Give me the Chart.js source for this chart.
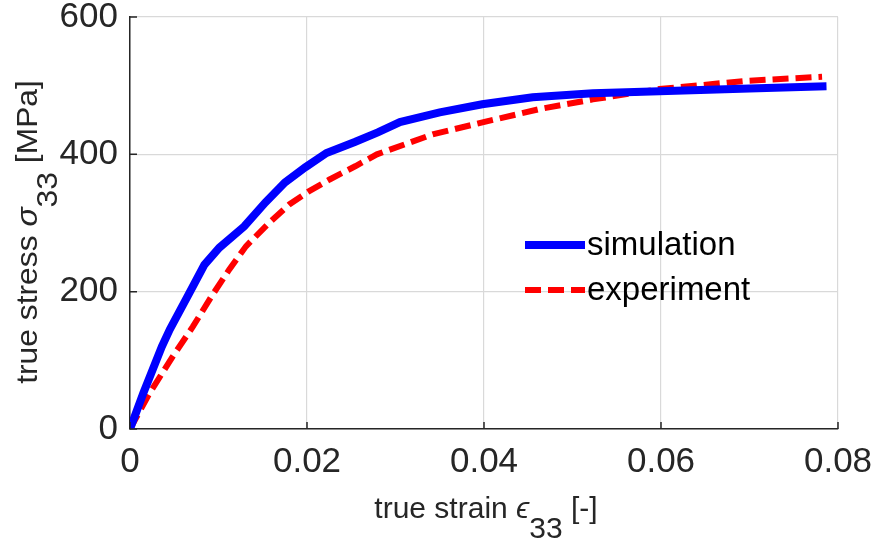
<!DOCTYPE html>
<html>
<head>
<meta charset="utf-8">
<script src="https://cdn.jsdelivr.net/npm/chart.js@4/dist/chart.umd.min.js"></script>
<style>
  html, body { margin: 0; padding: 0; background: #fff; }
  canvas { display: block; }
</style>
</head>
<body>
<canvas id="graficoTensao" width="879" height="541"></canvas>
<script>
// Dados (deformação verdadeira x tensão verdadeira)
const strainSim = [0, 0.0015, 0.0036, 0.0045, 0.0067, 0.0084, 0.0101, 0.0129, 0.0153, 0.0175, 0.0198, 0.0222, 0.0254, 0.0280, 0.0305, 0.0350, 0.0398, 0.0455, 0.0523, 0.0598, 0.0700, 0.0787];
const stressSim = [0, 52, 120, 145, 198, 239, 264, 295, 330, 359, 381, 402, 418, 432, 447, 461, 473, 483, 489, 492, 496, 499];

const strainExp = [0, 0.0022, 0.0048, 0.0071, 0.0092, 0.0112, 0.0131, 0.0157, 0.0180, 0.0202, 0.0225, 0.0255, 0.0279, 0.0342, 0.0403, 0.0463, 0.0523, 0.0598, 0.0696, 0.0782];
const stressExp = [0, 52, 105, 149, 193, 232, 266, 300, 327, 346, 363, 383, 400, 429, 448, 466, 480, 495, 507, 513];

const seriesLabels = ['simulation', 'experiment'];
const xTicks = [0, 0.02, 0.04, 0.06, 0.08];
const yTicks = [0, 200, 400, 600];

const corTexto = '#262626';
const fonte = '"Liberation Sans", Arial, Helvetica, sans-serif';

function pares(xs, ys) {
    return xs.map((x, i) => ({ x: x, y: ys[i] }));
}

// desenha um texto com partes em itálico / subscrito (estilo TeX do MATLAB)
function textoComposto(ctx, partes, size) {
    const medir = p => {
        ctx.font = (p.italic ? 'italic ' : '') + size + 'px ' + fonte;
        return ctx.measureText(p.t).width;
    };
    const total = partes.reduce((acc, p) => acc + medir(p), 0);
    let x = -total / 2;
    partes.forEach(p => {
        const w = medir(p);
        ctx.fillText(p.t, x, p.sub ? size * 0.68 : 0);
        x += w;
    });
}

const eixosMatlab = {
    id: 'eixosMatlab',
    afterDraw(chart) {
        const ctx = chart.ctx;
        const area = chart.chartArea;
        const sx = chart.scales.x, sy = chart.scales.y;
        ctx.save();
        // marcas dos ticks para dentro
        ctx.strokeStyle = corTexto;
        ctx.lineWidth = 1.5;
        ctx.beginPath();
        xTicks.forEach(v => {
            const px = sx.getPixelForValue(v);
            ctx.moveTo(px, area.bottom);
            ctx.lineTo(px, area.bottom - 7);
        });
        yTicks.forEach(v => {
            const py = sy.getPixelForValue(v);
            ctx.moveTo(area.left, py);
            ctx.lineTo(area.left + 7, py);
        });
        ctx.stroke();

        // títulos dos eixos
        ctx.fillStyle = corTexto;
        ctx.textBaseline = 'alphabetic';
        ctx.textAlign = 'left';
        ctx.save();
        ctx.translate(486, 518);
        textoComposto(ctx, [
            { t: 'true strain ' }, { t: 'ϵ', italic: true }, { t: '33', sub: true }, { t: ' [-]' }
        ], 30);
        ctx.restore();

        ctx.save();
        ctx.translate(37, 232);
        ctx.rotate(-Math.PI / 2);
        ctx.scale(1.06, 1);
        textoComposto(ctx, [
            { t: 'true stress ' }, { t: 'σ', italic: true }, { t: '33', sub: true }, { t: ' [MPa]' }
        ], 30);
        ctx.restore();

        // legenda dentro da área do gráfico
        const itens = chart.data.datasets;
        const linhasY = [245, 290];
        itens.forEach((ds, i) => {
            const y = linhasY[i];
            ctx.beginPath();
            ctx.strokeStyle = ds.borderColor;
            ctx.lineWidth = ds.borderWidth;
            ctx.setLineDash(ds.borderDash || []);
            ctx.moveTo(525, y);
            ctx.lineTo(585, y);
            ctx.stroke();
            ctx.setLineDash([]);
            ctx.fillStyle = '#000';
            ctx.font = '33px ' + fonte;
            ctx.textBaseline = 'middle';
            ctx.fillText(ds.label, 587, y + 1);
        });
        ctx.restore();
    }
};

function grafico(canvas = 'graficoTensao') {
    const canvasElement = document.getElementById(canvas);
    if (!canvasElement) {
        console.error('Canvas ' + canvas + ' não encontrado.');
        return;
    }
    const ctx = canvasElement.getContext('2d');
    return new Chart(ctx, {
        type: 'line',
        data: {
            datasets: [
                {
                    label: seriesLabels[0],
                    data: pares(strainSim, stressSim),
                    borderColor: '#0000ff',
                    borderWidth: 8,
                    pointRadius: 0,
                    tension: 0,
                    fill: false
                },
                {
                    label: seriesLabels[1],
                    data: pares(strainExp, stressExp),
                    borderColor: '#ff0000',
                    borderWidth: 6,
                    borderDash: [16, 7],
                    pointRadius: 0,
                    tension: 0,
                    fill: false
                }
            ]
        },
        options: {
            responsive: false,
            animation: false,
            layout: { padding: { top: 17, right: 41, left: 0, bottom: 0 } },
            scales: {
                x: {
                    type: 'linear',
                    min: 0,
                    max: 0.08,
                    afterBuildTicks: s => { s.ticks = xTicks.map(v => ({ value: v })); },
                    afterFit: s => { s.height = 112; s.paddingLeft = 0; s.paddingRight = 0; },
                    grid: { color: '#d9d9d9', lineWidth: 1.2, drawTicks: false },
                    border: { color: corTexto, width: 1.5 },
                    ticks: {
                        padding: 12,
                        color: corTexto,
                        font: { family: fonte, size: 35 },
                        maxRotation: 0,
                        callback: v => v === 0 ? '0' : v.toFixed(2)
                    }
                },
                y: {
                    min: 0,
                    max: 600,
                    afterBuildTicks: s => { s.ticks = yTicks.map(v => ({ value: v })); },
                    afterFit: s => { s.width = 130; s.paddingTop = 0; s.paddingBottom = 0; },
                    grid: { color: '#d9d9d9', lineWidth: 1.2, drawTicks: false },
                    border: { color: corTexto, width: 1.5 },
                    ticks: {
                        padding: 12,
                        color: corTexto,
                        font: { family: fonte, size: 35 }
                    }
                }
            },
            plugins: {
                legend: { display: false },
                tooltip: { enabled: false }
            }
        },
        plugins: [eixosMatlab]
    });
}

grafico();
</script>
</body>
</html>
